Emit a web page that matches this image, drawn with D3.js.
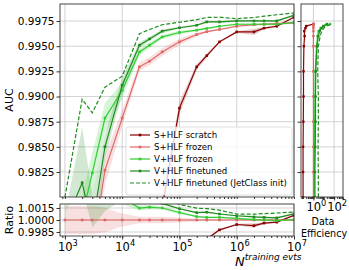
<!DOCTYPE html>
<html><head><meta charset="utf-8">
<script src="https://cdn.jsdelivr.net/npm/d3@7"></script>
<style>
body{margin:0;background:#fff;}
svg{display:block;font-family:"DejaVu Sans",sans-serif;}
</style></head>
<body><svg id="c" width="349" height="270"></svg>
<script>
// ---------------- data ----------------
const nTrain = [1e3,2e3,3e3,5e3,1e4,2e4,3e4,5e4,1e5,2e5,3e5,5e5,1e6,2e6,3e6,5e6,1e7];
const seriesNames = ["S+HLF scratch","S+HLF frozen","V+HLF frozen","V+HLF finetuned","V+HLF finetuned (JetClass init)"];
const aucScratch   = [null,null,null,null,null,null,null,0.9790,0.98885,0.99295,0.99406,0.99543,0.99642,0.99642,0.99679,0.99698,0.99788];
const stdScratch   = [null,null,null,null,null,null,null,0.0008,0.0006,0.0003,0.0002,0.0001,0.0001,0.0003,0.0001,0.0001,0.0001];
const aucSFrozen   = [0.9690,0.9720,0.9745,0.9827,0.98786,0.99295,0.99351,0.99443,0.99543,0.99616,0.99644,0.99666,0.99698,0.99713,0.99718,0.99725,0.99731];
const stdSFrozen   = [0.0017,0.0017,0.0017,0.0015,0.0008,0.0004,0.0004,0.0004,0.0003,0.0002,0.0001,0.0001,0.0001,0.0001,0.0001,0.0001,0.0001];
const aucVFrozen   = [0.9720,0.9781,0.9824,0.98786,0.9906,0.99443,0.99510,0.99592,0.99636,0.99659,0.99676,0.99698,0.99718,0.99718,0.99718,0.99718,0.99735];
const stdVFrozen   = [0.002,0.002,0.002,0.0015,0.0008,0.0003,0.0003,0.0002,0.0002,0.0001,0.0001,0.0001,0.0001,0.0001,0.0001,0.0001,0.0001];
const aucVFine     = [0.9773,0.98144,0.9770,0.98501,0.99113,0.99510,0.99572,0.99649,0.99683,0.99708,0.99741,0.99741,0.99751,0.99751,0.99751,0.99751,0.99807];
const stdVFine     = [0.001,0.0055,0.0034,0.0012,0.0008,0.0003,0.0002,0.0002,0.0001,0.0001,0.0001,0.0001,0.0001,0.0001,0.0001,0.0001,0.0001];
const aucVFineJC   = [0.9800,0.98974,0.98838,0.99093,0.99202,0.99624,0.99666,0.99713,0.99738,0.99763,0.99785,0.99788,0.99773,0.99785,0.99798,0.99812,0.99830];

// data efficiency side panel (AUC level -> efficiency)
const effLevels    = [0.9800,0.9825,0.9850,0.9875,0.9900,0.9925,0.9950,0.9960,0.9965,0.9968,0.9970,0.9972];
const effScratch   = [0.10,0.10,0.10,0.105,0.11,0.11,0.12,0.14,0.13,0.17,0.2,1.0];
const effSFrozen   = [1,1,1,1,1,1,1,1,1,1,1,1];
const effVFrozen   = [1.2,1.2,1.3,1.3,1.4,1.5,2.0,2.5,3.2,5,10,40];
const effVFine     = [1.4,1.4,1.5,1.6,1.6,1.7,2.2,3.0,4.0,6,9,20];
const effVFineJC   = [3.0,3.0,2.8,3.0,3.0,2.6,3.0,4.5,6.5,10,20,60];

const xTicks = [1e3,1e4,1e5,1e6,1e7];
const yTicks = [0.9825,0.9850,0.9875,0.9900,0.9925,0.9950,0.9975];
const rTicks = [0.9985,1.0000,1.0015];
const eTicks = [1,100];

// ---------------- layout ----------------
const svg = d3.select("#c");
const M = {l:60, r:294, t:4, b:197};
const R = {t:204, b:236};
const S = {l:301, r:343};
const colors = ["#8b0000","#e06666","#33cc33","#1e8c1e","#1e8c1e"];

const x = d3.scaleLog().domain([820,1e7]).range([M.l,M.r]);
const y = d3.scaleLinear().domain([0.98002,0.99919]).range([M.b,M.t]);
const yr = d3.scaleLinear().domain([0.998,1.002]).range([R.b,R.t]);
const xe = d3.scaleLog().domain([Math.pow(10,-1.2),Math.pow(10,2.86)]).range([S.l,S.r]);

const defs = svg.append("defs");
defs.append("clipPath").attr("id","cm").append("rect").attr("x",M.l).attr("y",M.t).attr("width",M.r-M.l).attr("height",M.b-M.t);
defs.append("clipPath").attr("id","cr").append("rect").attr("x",M.l).attr("y",R.t).attr("width",M.r-M.l).attr("height",R.b-R.t);
defs.append("clipPath").attr("id","cs").append("rect").attr("x",S.l).attr("y",M.t).attr("width",S.r-S.l).attr("height",M.b-M.t);

const gridC = "#c8c8c8";
function grid(g, xs, xsc, ys, ysc, x0,x1,y0,y1){
  g.selectAll(".gx").data(xs).enter().append("line").attr("x1",d=>xsc(d)).attr("x2",d=>xsc(d)).attr("y1",y0).attr("y2",y1).attr("stroke",gridC).attr("stroke-width",0.8);
  g.selectAll(".gy").data(ys).enter().append("line").attr("y1",d=>ysc(d)).attr("y2",d=>ysc(d)).attr("x1",x0).attr("x2",x1).attr("stroke",gridC).attr("stroke-width",0.8);
}
grid(svg.append("g"), xTicks, x, yTicks, y, M.l,M.r,M.t,M.b);
grid(svg.append("g"), xTicks, x, rTicks, yr, M.l,M.r,R.t,R.b);
grid(svg.append("g"), eTicks, xe, yTicks, y, S.l,S.r,M.t,M.b);

const series = [
  {v:aucScratch, s:stdScratch, c:colors[0], dash:null, mk:true},
  {v:aucSFrozen, s:stdSFrozen, c:colors[1], dash:null, mk:true},
  {v:aucVFrozen, s:stdVFrozen, c:colors[2], dash:null, mk:true},
  {v:aucVFine,   s:stdVFine,   c:colors[3], dash:null, mk:true},
  {v:aucVFineJC, s:null,       c:colors[4], dash:"4,2", mk:false}
];

const gm = svg.append("g").attr("clip-path","url(#cm)");
const gr = svg.append("g").attr("clip-path","url(#cr)");

series.forEach(sr=>{
  if(!sr.s) return;
  const pts = nTrain.map((n,i)=>({n, v:sr.v[i], s:sr.s[i], f:aucSFrozen[i]})).filter(p=>p.v!=null);
  gm.append("path").datum(pts).attr("fill",sr.c).attr("fill-opacity",0.2)
    .attr("d",d3.area().x(p=>x(p.n)).y0(p=>y(p.v-p.s)).y1(p=>y(p.v+p.s)));
  gr.append("path").datum(pts).attr("fill",sr.c).attr("fill-opacity",0.2)
    .attr("d",d3.area().x(p=>x(p.n)).y0(p=>yr((p.v-p.s)/p.f)).y1(p=>yr((p.v+p.s)/p.f)));
});
series.forEach(sr=>{
  const pts = nTrain.map((n,i)=>({n, v:sr.v[i], f:aucSFrozen[i]})).filter(p=>p.v!=null);
  gm.append("path").datum(pts).attr("fill","none").attr("stroke",sr.c).attr("stroke-width",1.2)
    .attr("stroke-dasharray",sr.dash).attr("d",d3.line().x(p=>x(p.n)).y(p=>y(p.v)));
  gr.append("path").datum(pts).attr("fill","none").attr("stroke",sr.c).attr("stroke-width",1.2)
    .attr("stroke-dasharray",sr.dash).attr("d",d3.line().x(p=>x(p.n)).y(p=>yr(p.v/p.f)));
  if(sr.mk){
    gm.selectAll(null).data(pts).enter().append("rect").attr("x",p=>x(p.n)-1.3).attr("y",p=>y(p.v)-1.3).attr("width",2.6).attr("height",2.6).attr("fill",sr.c);
    gr.selectAll(null).data(pts).enter().append("rect").attr("x",p=>x(p.n)-1.3).attr("y",p=>yr(p.v/p.f)-1.3).attr("width",2.6).attr("height",2.6).attr("fill",sr.c);
  }
});

// side panel
const gs = svg.append("g").attr("clip-path","url(#cs)");
const effSeries = [effScratch, effSFrozen, effVFrozen, effVFine, effVFineJC];
effSeries.forEach((e,k)=>{
  const sr = series[k];
  const pts = effLevels.map((l,i)=>({l, e:e[i]}));
  gs.append("path").datum(pts).attr("fill","none").attr("stroke",sr.c).attr("stroke-width",1.2)
    .attr("stroke-dasharray",sr.dash).attr("d",d3.line().x(p=>xe(p.e)).y(p=>y(p.l)));
  if(sr.mk) gs.selectAll(null).data(pts).enter().append("rect").attr("x",p=>xe(p.e)-1.2).attr("y",p=>y(p.l)-1.2).attr("width",2.4).attr("height",2.4).attr("fill",sr.c);
});

// frames
const frameC = "#333";
[[M.l,M.t,M.r,M.b],[M.l,R.t,M.r,R.b],[S.l,M.t,S.r,M.b]].forEach(b=>{
  svg.append("rect").attr("x",b[0]).attr("y",b[1]).attr("width",b[2]-b[0]).attr("height",b[3]-b[1]).attr("fill","none").attr("stroke",frameC).attr("stroke-width",0.9);
});

const fs = "10.5px";
function styleAxis(g){ g.select(".domain").remove(); g.selectAll("line").attr("stroke",frameC); g.selectAll("text").attr("fill","#000").style("font-size",fs).style("font-family","DejaVu Sans"); }
svg.append("g").attr("transform",`translate(${M.l},0)`).call(d3.axisLeft(y).tickValues(yTicks).tickFormat(d3.format(".4f")).tickSize(3.5).tickPadding(2)).call(styleAxis);
svg.append("g").attr("transform",`translate(${M.l},0)`).call(d3.axisLeft(yr).tickValues(rTicks).tickFormat(d3.format(".4f")).tickSize(3.5).tickPadding(2)).call(styleAxis);
svg.append("g").attr("transform",`translate(${S.l},0)`).call(d3.axisLeft(y).tickValues(yTicks).tickFormat("").tickSize(3.5)).call(styleAxis);

function minorTicks(sc, lo, hi){ const out=[]; for(let e=lo;e<=hi;e++) for(let m=1;m<10;m++){ const v=m*Math.pow(10,e); if(v>=sc.domain()[0]&&v<=sc.domain()[1]) out.push(v);} return out; }
const xMinor = minorTicks(x,2,7);
svg.append("g").attr("transform",`translate(0,${R.b})`).call(d3.axisBottom(x).tickValues(xMinor).tickFormat("").tickSize(2)).call(styleAxis);
svg.append("g").attr("transform",`translate(0,${R.b})`).call(d3.axisBottom(x).tickValues(xTicks).tickFormat("").tickSize(3.5)).call(styleAxis);
svg.append("g").attr("transform",`translate(0,${M.b})`).call(d3.axisBottom(x).tickValues(xMinor).tickFormat("").tickSize(2)).call(styleAxis);
const eMinor = minorTicks(xe,-2,2);
svg.append("g").attr("transform",`translate(0,${M.b})`).call(d3.axisBottom(xe).tickValues(eMinor).tickFormat("").tickSize(2)).call(styleAxis);
svg.append("g").attr("transform",`translate(0,${M.b})`).call(d3.axisBottom(xe).tickValues(eTicks).tickFormat("").tickSize(3.5)).call(styleAxis);

function logLabel(px, py, exp, size){
  const t = svg.append("text").attr("x",px).attr("y",py).attr("text-anchor","middle").style("font-size",size+"px").attr("fill","#000");
  t.append("tspan").text("10");
  t.append("tspan").attr("dy",-size*0.42).style("font-size",(size*0.72)+"px").text(exp);
}
xTicks.forEach(v=>logLabel(x(v)+3, R.b+15, String(Math.round(Math.log10(v))), 11.5));
eTicks.forEach(v=>logLabel(xe(v)+3, M.b+14, String(Math.round(Math.log10(v))), 11.5));

svg.append("text").attr("transform","translate(13,100) rotate(-90)").attr("text-anchor","middle").style("font-size","11px").text("AUC");
svg.append("text").attr("transform","translate(13,220) rotate(-90)").attr("text-anchor","middle").style("font-size","11px").text("Ratio");
const xl = svg.append("text").attr("x",235).attr("y",266).style("font-size","13px").style("font-style","italic");
xl.append("tspan").text("N");
xl.append("tspan").attr("dy",-6).style("font-size","9px").text("training evts");
svg.append("text").attr("x",323).attr("y",225).attr("text-anchor","middle").style("font-size","9.6px").text("Data");
svg.append("text").attr("x",324).attr("y",237).attr("text-anchor","middle").style("font-size","9.6px").text("Efficiency");

// legend
const lg = svg.append("g");
lg.append("rect").attr("x",126).attr("y",127).attr("width",166).attr("height",68).attr("rx",2.5)
  .attr("fill","#fff").attr("fill-opacity",0.8).attr("stroke","#d5d5d5").attr("stroke-width",0.8);
const legTexts = [];
seriesNames.forEach((name,i)=>{
  const sr = series[i], yy = 135 + i*12;
  lg.append("line").attr("x1",130).attr("x2",150).attr("y1",yy).attr("y2",yy).attr("stroke",sr.c).attr("stroke-width",1.2).attr("stroke-dasharray",sr.dash);
  if(sr.mk) lg.append("rect").attr("x",138.7).attr("y",yy-1.3).attr("width",2.6).attr("height",2.6).attr("fill",sr.c);
  legTexts.push(lg.append("text").attr("x",154).attr("y",yy+3.4).style("font-size","10px").text(name));
});
const wLong = legTexts[4].node().getComputedTextLength();
const fsL = Math.min(10, 10*133/wLong);
legTexts.forEach(t=>t.style("font-size",fsL+"px"));
</script></body></html>
